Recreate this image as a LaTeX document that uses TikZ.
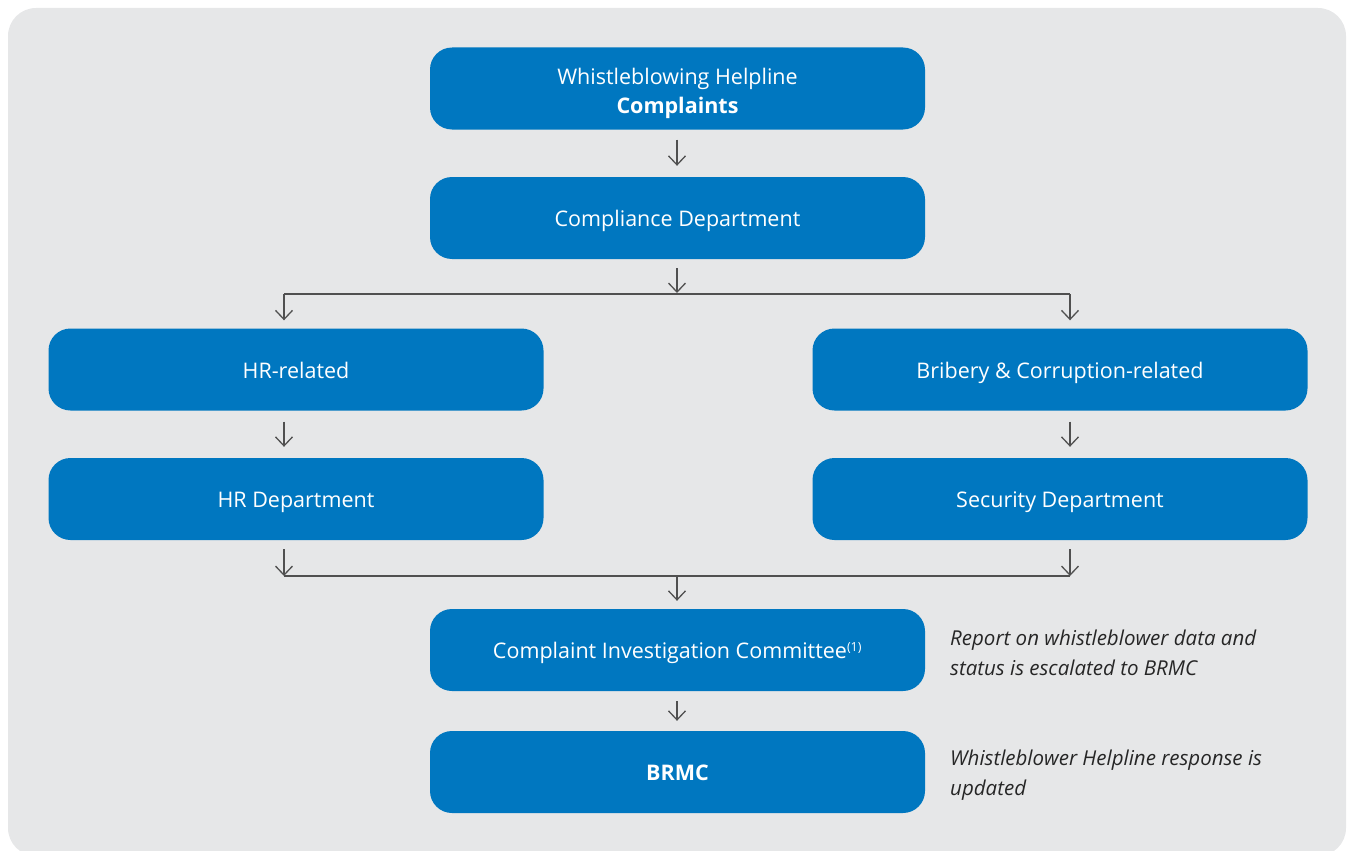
\documentclass[tikz,border=0pt]{standalone}
\usepackage{fontspec}
\setmainfont{Open Sans}
\usetikzlibrary{arrows.meta}
\definecolor{boxblue}{RGB}{0,119,192}
\definecolor{bggray}{RGB}{230,231,232}
\definecolor{arrgray}{RGB}{80,80,80}
\tikzset{
  flowbox/.style={fill=boxblue, rounded corners=22pt, minimum width=495pt, minimum height=82pt,
    text=white, font=\fontsize{21.5}{29}\selectfont, align=center, inner sep=0pt,
    execute at begin node={\rule[-6pt]{0pt}{29.6pt}}},
  arr/.style={draw=arrgray, line width=1.3pt, -{Straight Barb[length=9pt,width=17pt]}},
  conn/.style={draw=arrgray, line width=1.3pt},
  note/.style={anchor=north west, align=left, font=\fontsize{20.5}{30}\selectfont\itshape, text=black!85, inner sep=0pt}
}
\begin{document}
\begin{tikzpicture}[x=1pt,y=-1pt]
\useasboundingbox (0,0) rectangle (1352,851);
\fill[bggray, rounded corners=28pt] (8,8) rectangle (1346,856);

\node[flowbox, execute at begin node={}] (help) at (677.5,88.5)
  {\raisebox{-5pt}[\height][\depth]{\begin{tabular}{@{}c@{}}Whistleblowing Helpline\\\textbf{Complaints}\end{tabular}}};
\node[flowbox] (comp) at (677.5,218) {Compliance Department};
\node[flowbox] (hrrel) at (296,369.5) {HR-related};
\node[flowbox] (brib) at (1060,369.5) {Bribery \& Corruption-related};
\node[flowbox] (hrdep) at (296,499) {HR Department};
\node[flowbox] (sec) at (1060,499) {Security Department};
\node[flowbox] (cic) at (677.5,650) {Complaint Investigation Committee\textsuperscript{\fontsize{12.5}{12.5}\selectfont(1)}};
\node[flowbox] (brmc) at (677.5,772) {\textbf{BRMC}};

\node[note] (n1) at (950,630) {Report on whistleblower data and\\status is escalated to BRMC};
\node[note] (n2) at (950,750) {Whistleblower Helpline response is\\updated};

\coordinate (split) at (677,294);
\coordinate (splitL) at (284,294);
\coordinate (splitR) at (1070,294);
\coordinate (merge) at (677,576);
\coordinate (mergeL) at (284,576);
\coordinate (mergeR) at (1070,576);

\draw[arr] ([yshift=-10pt]help.south -| split) -- ([yshift=11pt]comp.north -| split);
\draw[arr] ([yshift=-9pt]comp.south -| split) -- ([yshift=1pt]split);
\draw[conn] (splitL) -- (splitR);
\draw[arr] (splitL) -- ([yshift=8pt]hrrel.north -| splitL);
\draw[arr] (splitR) -- ([yshift=8pt]brib.north -| splitR);
\draw[arr] ([yshift=-11pt]hrrel.south -| splitL) -- ([yshift=11pt]hrdep.north -| splitL);
\draw[arr] ([yshift=-11pt]brib.south -| splitR) -- ([yshift=11pt]sec.north -| splitR);
\draw[arr] ([yshift=-9pt]hrdep.south -| mergeL) -- (mergeL);
\draw[arr] ([yshift=-9pt]sec.south -| mergeR) -- (mergeR);
\draw[conn] (mergeL) -- (mergeR);
\draw[arr] (merge) -- ([yshift=8pt]cic.north -| merge);
\draw[arr] ([yshift=-10pt]cic.south -| merge) -- ([yshift=10pt]brmc.north -| merge);
\end{tikzpicture}
\end{document}
